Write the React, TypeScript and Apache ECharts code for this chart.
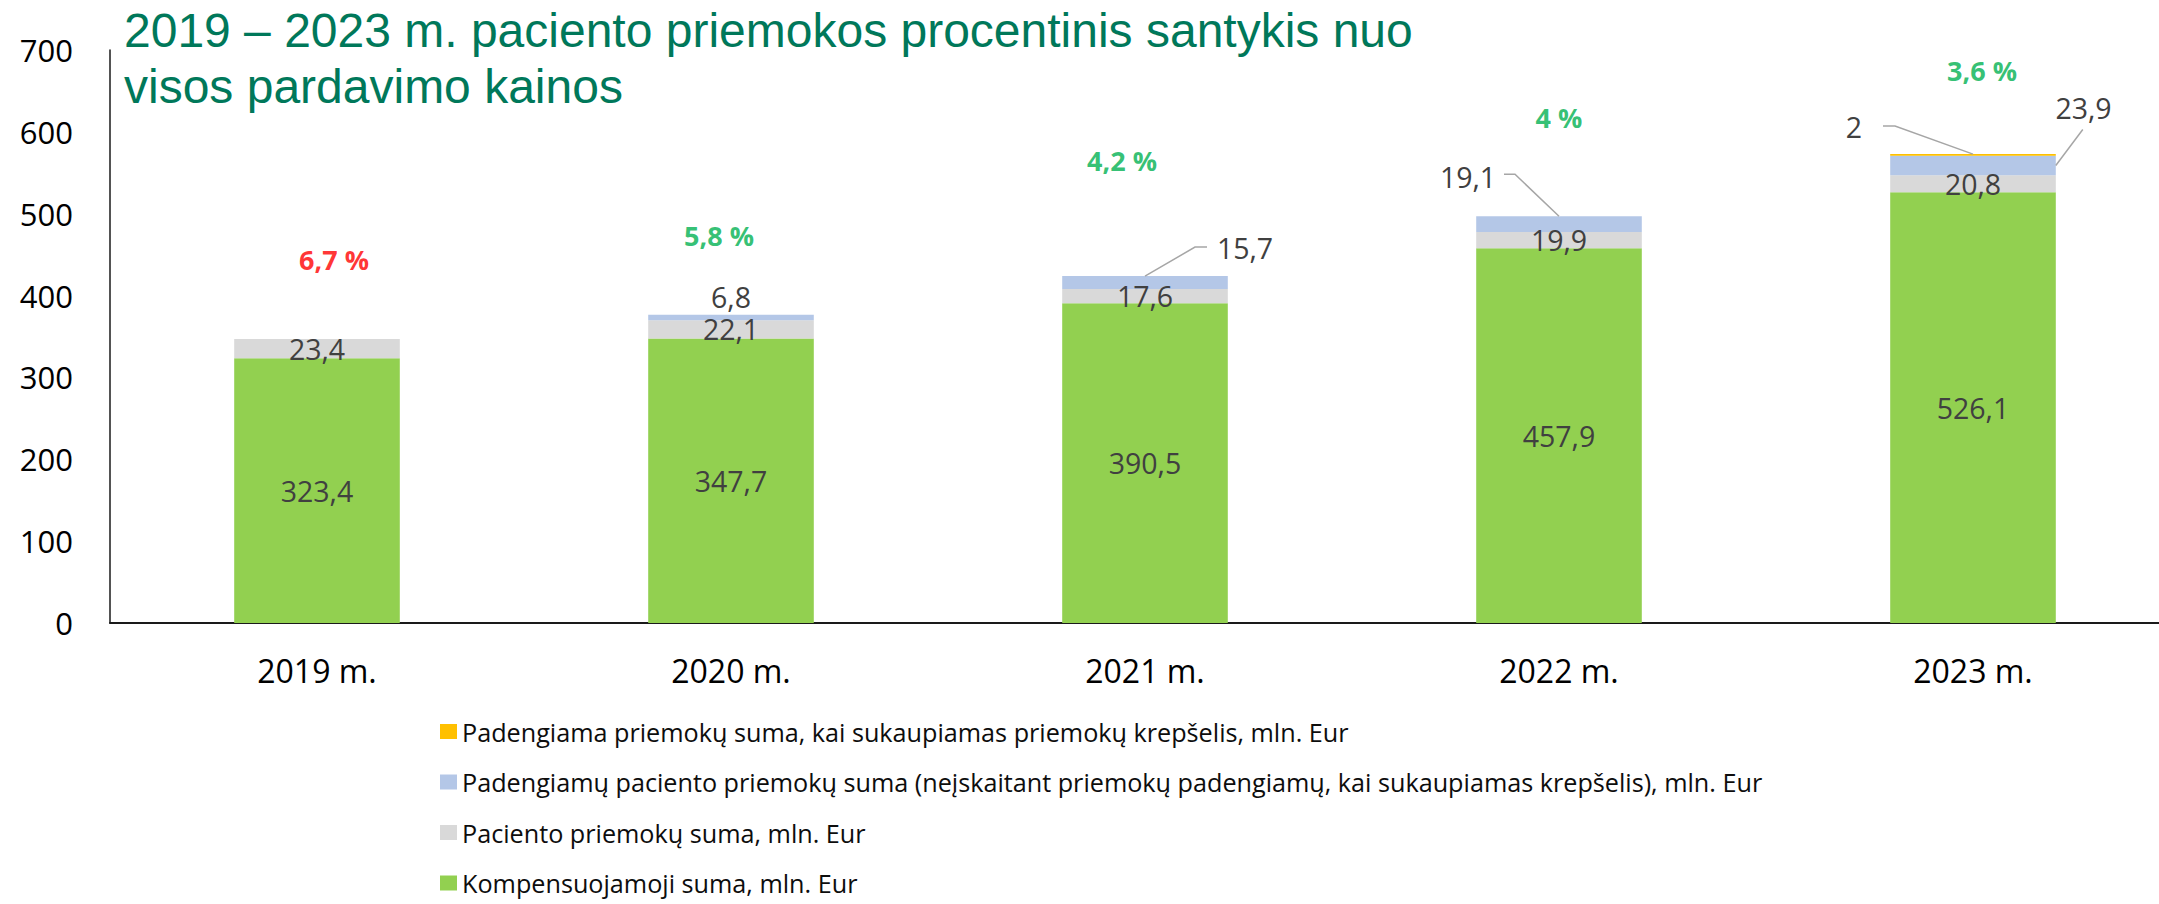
import React, { useEffect, useRef } from "react";
import * as echarts from "echarts";

// ---------- data ----------
const categories = ["2019 m.", "2020 m.", "2021 m.", "2022 m.", "2023 m."];
const compensated = [323.4, 347.7, 390.5, 457.9, 526.1];
const patientCopay = [23.4, 22.1, 17.6, 19.9, 20.8];
const coveredCopay = [0, 6.8, 15.7, 19.1, 23.9];
const basketCovered = [0, 0, 0, 0, 2];
const shareLabels = ["6,7 %", "5,8 %", "4,2 %", "4 %", "3,6 %"];
const shareLabelLevels = [444.6, 473.4, 565.6, 617, 675.5];
const yTicks = { min: 0, max: 700, interval: 100 };

const seriesNames = [
  "Kompensuojamoji suma, mln. Eur",
  "Paciento priemokų suma, mln. Eur",
  "Padengiamų paciento priemokų suma (neįskaitant priemokų padengiamų, kai sukaupiamas krepšelis), mln. Eur",
  "Padengiama priemokų suma, kai sukaupiamas priemokų krepšelis, mln. Eur",
];
const titleText = "2019 – 2023 m. paciento priemokos procentinis santykis nuo\nvisos pardavimo kainos";

// ---------- styles ----------
const COLORS = ["#92D050", "#D9D9D9", "#B4C7E7", "#FFC000"];
const SHARE_COLORS = ["#FF0000", "#00B050", "#00B050", "#00B050", "#00B050"];
const SHARE_OFFSET_X = [17, -12, -23, 0, 9];
const BLUE_LABEL_OFFSETS: (number[] | null)[] = [null, [0, -21], [100, -34.5], [-91, -47], [110.5, -57.5]];
const YELLOW_LABEL_OFFSETS: (number[] | null)[] = [null, null, null, null, [-119, -28]];
const CAL = "'Open Sans', 'Noto Sans', sans-serif";
const ARIAL = "'Liberation Sans', Arial, sans-serif";
const LABEL_COLOR = "#404040";
const LABEL_SIZE = 28.5;
const BAR_WIDTH_RATIO = 0.4;

const fmt = (v: number) => String(v).replace(".", ",");

export default function App() {
  const ref = useRef<HTMLDivElement>(null);

  useEffect(() => {
    if (!ref.current) return;
    const chart = echarts.init(ref.current, null, { renderer: "svg" });

    const baseLabel = {
      fontFamily: CAL,
      fontSize: LABEL_SIZE,
      lineHeight: 26,
      color: LABEL_COLOR,
    };

    const withOffsets = (vals: number[], offsets: (number[] | null)[]) =>
      vals.map((v, i) => {
        const off = offsets[i];
        if (!v || !off) return { value: v, label: { show: false } };
        return {
          value: v,
          label: { show: true, position: "inside", offset: off, ...baseLabel },
        };
      });

    const option: any = {
      animation: false,
      title: {
        text: titleText,
        left: 124,
        top: 2,
        padding: 0,
        textStyle: {
          fontFamily: ARIAL,
          fontSize: 48,
          lineHeight: 56,
          fontWeight: "normal",
          color: "#00785A",
        },
      },
      legend: {
        type: "plain",
        orient: "vertical",
        left: 440,
        top: 719,
        width: 1600,
        height: 400,
        padding: 0,
        itemWidth: 17,
        itemHeight: 15,
        itemGap: 25.5,
        icon: "rect",
        data: [seriesNames[3], seriesNames[2], seriesNames[1], seriesNames[0]],
        textStyle: {
          fontFamily: CAL,
          fontSize: 25.2,
          lineHeight: 25,
          color: "#0D0D0D",
        },
      },
      grid: {
        left: 110,
        right: -21,
        top: 50,
        bottom: 281,
        containLabel: false,
        outerBoundsMode: "none",
      },
      xAxis: {
        type: "category",
        data: categories,
        axisLine: { show: true, lineStyle: { color: "#1A1A1A", width: 2 } },
        axisTick: { show: false },
        axisLabel: {
          fontFamily: CAL,
          fontSize: 32,
          color: "#000000",
          margin: 31,
        },
        splitLine: { show: false },
      },
      yAxis: {
        type: "value",
        min: yTicks.min,
        max: yTicks.max,
        interval: yTicks.interval,
        axisLine: { show: true, lineStyle: { color: "#1A1A1A", width: 1.5 } },
        axisTick: { show: false },
        splitLine: { show: false },
        axisLabel: {
          fontFamily: CAL,
          fontSize: 31,
          color: "#000000",
          margin: 37,
        },
      },
      series: [
        {
          name: seriesNames[0],
          type: "bar",
          stack: "total",
          barWidth: BAR_WIDTH_RATIO * 100 + "%",
          data: compensated,
          itemStyle: { color: COLORS[0] },
          label: {
            show: true,
            position: "inside",
            formatter: (p: any) => fmt(p.value),
            ...baseLabel,
          },
        },
        {
          name: seriesNames[1],
          type: "bar",
          stack: "total",
          data: patientCopay,
          itemStyle: { color: COLORS[1] },
          label: {
            show: true,
            position: "inside",
            formatter: (p: any) => fmt(p.value),
            ...baseLabel,
          },
        },
        {
          name: seriesNames[2],
          type: "bar",
          stack: "total",
          data: withOffsets(coveredCopay, BLUE_LABEL_OFFSETS),
          itemStyle: { color: COLORS[2] },
          label: { formatter: (p: any) => fmt(p.value) },
        },
        {
          name: seriesNames[3],
          type: "bar",
          stack: "total",
          data: withOffsets(basketCovered, YELLOW_LABEL_OFFSETS),
          itemStyle: { color: COLORS[3] },
          label: { formatter: (p: any) => fmt(p.value) },
        },
        {
          name: "share",
          type: "scatter",
          symbolSize: 0,
          silent: true,
          data: shareLabelLevels.map((v, i) => ({
            value: [i, v],
            label: {
              show: true,
              position: "inside",
              offset: [SHARE_OFFSET_X[i], 0],
              formatter: shareLabels[i],
              fontFamily: CAL,
              fontSize: 27,
              fontWeight: "bold",
              color: SHARE_COLORS[i],
            },
          })),
        },
      ],
    };

    chart.setOption(option);

    // leader lines for the moved labels
    const totals = categories.map(
      (_, i) => compensated[i] + patientCopay[i] + coveredCopay[i] + basketCovered[i]
    );
    const px = (i: number, v: number) =>
      chart.convertToPixel({ xAxisIndex: 0, yAxisIndex: 0 }, [i, v]) as number[];
    const band = px(1, 0)[0] - px(0, 0)[0];
    const halfBar = (band * BAR_WIDTH_RATIO) / 2;

    const lines: number[][][] = [];
    {
      const [ax, ay] = px(2, totals[2]);
      lines.push([[ax, ay], [ax + 50, ay - 29], [ax + 62, ay - 29]]);
    }
    {
      const [ax, ay] = px(3, totals[3]);
      lines.push([[ax - 55, ay - 42], [ax - 44, ay - 42], [ax, ay]]);
    }
    {
      const [ax, ay] = px(4, totals[4]);
      lines.push([[ax - 90, ay - 28], [ax - 78, ay - 28], [ax, ay]]);
    }
    {
      const mid = compensated[4] + patientCopay[4] + coveredCopay[4] / 2;
      const [cx, ay] = px(4, mid);
      const ax = cx + halfBar;
      lines.push([[ax + 27, ay - 36], [ax, ay]]);
    }

    chart.setOption({
      graphic: lines.map((pts) => ({
        type: "polyline",
        silent: true,
        shape: { points: pts },
        style: { stroke: "#A6A6A6", lineWidth: 1.5, fill: null },
        z: 10,
      })),
    });

    return () => chart.dispose();
  }, []);

  return (
    <div
      ref={ref}
      style={{ position: "absolute", left: 0, top: 0, width: 2159, height: 904, background: "#fff" }}
    />
  );
}
